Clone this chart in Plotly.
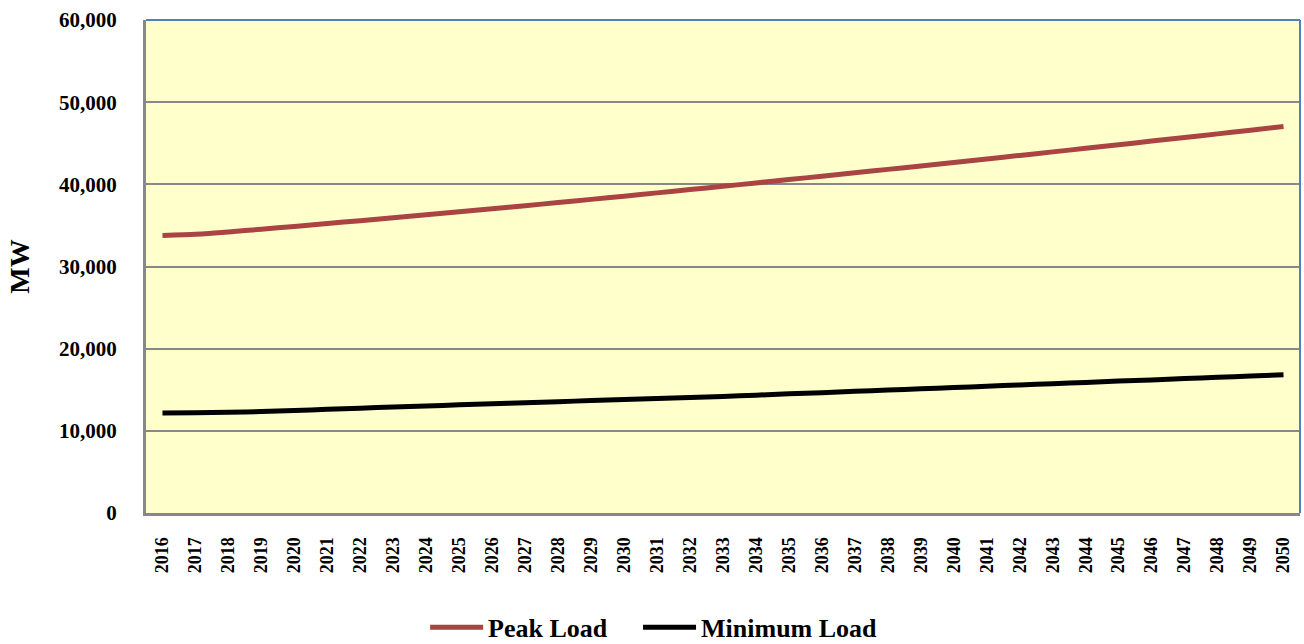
import plotly.graph_objects as go

years = [str(y) for y in range(2016, 2051)]

peak_load = [33780, 33920, 34200, 34540, 34880, 35230, 35580, 35930, 36290, 36650,
             37020, 37400, 37780, 38170, 38560, 38960, 39360, 39760, 40170, 40580,
             40990, 41400, 41820, 42240, 42660, 43090, 43520, 43950, 44380, 44820,
             45260, 45700, 46140, 46590, 47040]

minimum_load = [12170, 12190, 12250, 12350, 12480, 12620, 12760, 12900, 13030, 13160,
                13290, 13420, 13550, 13680, 13800, 13930, 14060, 14190, 14340, 14500,
                14650, 14810, 14960, 15120, 15270, 15430, 15580, 15740, 15890, 16050,
                16200, 16360, 16520, 16670, 16830]

y_ticks = [0, 10000, 20000, 30000, 40000, 50000, 60000]
y_tick_labels = ["0", "10,000", "20,000", "30,000", "40,000", "50,000", "60,000"]

serif = "Liberation Serif, Times New Roman, serif"

fig = go.Figure()
fig.add_trace(go.Scatter(x=years, y=peak_load, mode="lines", name="Peak Load", legend="legend",
                         line=dict(color="#A94442", width=5, shape="spline", smoothing=0.6)))
fig.add_trace(go.Scatter(x=years, y=minimum_load, mode="lines", name="Minimum Load", legend="legend2",
                         line=dict(color="#000000", width=5, shape="spline", smoothing=0.6)))

legend_style = dict(orientation="h", xref="container", yref="container",
                    xanchor="left", y=0.026, yanchor="middle",
                    font=dict(family=serif, size=26, color="black", weight="bold"),
                    itemwidth=53, bgcolor="rgba(0,0,0,0)")

fig.update_layout(
    width=1304, height=644,
    margin=dict(l=146, r=4, t=20, b=131, autoexpand=False),
    paper_bgcolor="white",
    plot_bgcolor="#FFFFCC",
    showlegend=True,
    legend=dict(x=0.326, **legend_style),
    legend2=dict(x=0.4893, **legend_style),
    xaxis=dict(type="category", range=[-0.5, 34.5], tickangle=-90, automargin=False,
               tickfont=dict(family=serif, size=18, color="black", weight="bold"),
               showgrid=False, showline=True, linecolor="#888888", linewidth=3,
               ticks="", ticklabelstandoff=14, zeroline=False),
    yaxis=dict(range=[0, 60000], tickvals=y_ticks, ticktext=y_tick_labels, automargin=False,
               tickfont=dict(family=serif, size=21, color="black", weight="bold"),
               showgrid=True, gridcolor="#888888", gridwidth=2,
               showline=True, linecolor="#888888", linewidth=3,
               ticks="", ticklabelstandoff=22, zeroline=False,
               title=dict(text="MW", font=dict(family=serif, size=28, color="black", weight="bold"),
                          standoff=22)),
    shapes=[dict(type="line", xref="paper", yref="paper", x0=0, x1=1, y0=1, y1=1,
                 line=dict(color="#4F81BD", width=2)),
            dict(type="line", xref="paper", yref="paper", x0=1, x1=1, y0=0, y1=1,
                 line=dict(color="#4F81BD", width=2))],
)

fig.write_html("out.html", config={"displayModeBar": False},
               post_script="document.body.style.margin='0';document.body.style.overflow='hidden';")
